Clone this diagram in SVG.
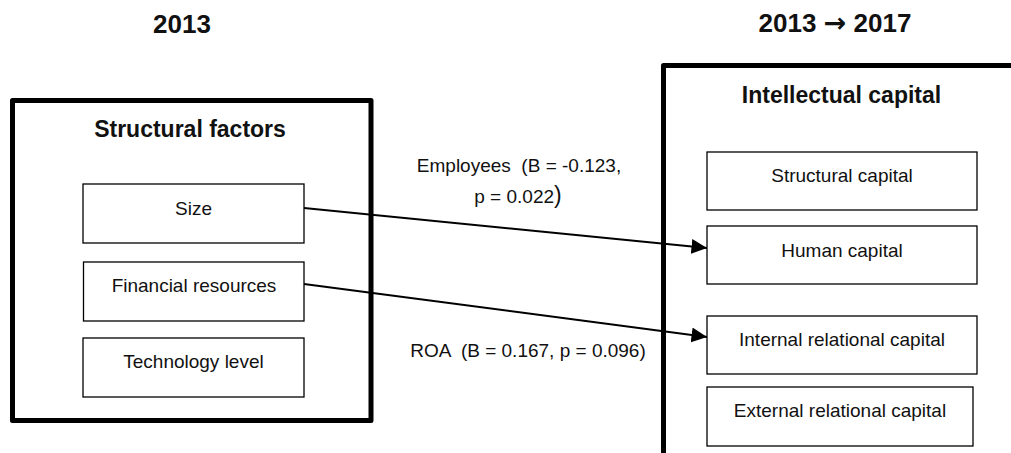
<svg xmlns="http://www.w3.org/2000/svg" width="1011" height="453" viewBox="0 0 1011 453">
<style>
.outer{fill:#fff;stroke:#000;stroke-width:5;stroke-linejoin:round}
.inner{fill:#fff;stroke:#000;stroke-width:1.3}
.t{font-family:"Liberation Sans",Arial,sans-serif;font-size:19px;fill:#111;text-anchor:middle}
.h{font-family:"Liberation Sans",Arial,sans-serif;font-weight:bold;fill:#111;text-anchor:middle}
.edge{stroke:#000;stroke-width:2;fill:none}
</style>
<defs>
<marker id="arr" markerWidth="16" markerHeight="16" refX="15.5" refY="7.5" orient="auto" markerUnits="userSpaceOnUse">
<path d="M0,0 L15.5,7.5 L0,15 Z" fill="#000"/>
</marker>
</defs>
<rect width="1011" height="453" fill="#fff"/>
<text class="h" x="182" y="33" font-size="26">2013</text>
<text class="h" x="835" y="32" font-size="26">2013 <tspan font-family="'DejaVu Sans',sans-serif" font-size="27">→</tspan> 2017</text>

<g id="structural-factors">
<rect class="outer" x="12.5" y="100.5" width="358.5" height="320"/>
<text class="h" x="190" y="137" font-size="23">Structural factors</text>
</g>
<g id="size">
<rect class="inner" x="83" y="184" width="221" height="59"/>
<text class="t" x="193.5" y="215">Size</text>
</g>
<g id="financial-resources">
<rect class="inner" x="83.5" y="262" width="220.5" height="59"/>
<text class="t" x="194" y="292">Financial resources</text>
</g>
<g id="technology-level">
<rect class="inner" x="83" y="338" width="221" height="59"/>
<text class="t" x="193.5" y="368">Technology level</text>
</g>

<g id="intellectual-capital">
<rect class="outer" x="663.5" y="65.5" width="360" height="400"/>
<text class="h" x="841.5" y="103" font-size="23">Intellectual capital</text>
</g>
<g id="structural-capital">
<rect class="inner" x="707" y="152" width="270" height="58"/>
<text class="t" x="842" y="182">Structural capital</text>
</g>
<g id="human-capital">
<rect class="inner" x="707" y="226" width="270" height="58"/>
<text class="t" x="842" y="257">Human capital</text>
</g>
<g id="internal-relational-capital">
<rect class="inner" x="707" y="316" width="270" height="58"/>
<text class="t" x="842" y="346">Internal relational capital</text>
</g>
<g id="external-relational-capital">
<rect class="inner" x="707" y="387" width="266" height="59"/>
<text class="t" x="840" y="417">External relational capital</text>
</g>

<g id="connectors">
<line class="edge" x1="304" y1="208" x2="707" y2="248" marker-end="url(#arr)"/>
<line class="edge" x1="304" y1="284" x2="707" y2="337" marker-end="url(#arr)"/>
<text class="t" x="519" y="172" xml:space="preserve">Employees  (B = -0.123,</text>
<text class="t" x="518" y="203">p = 0.022<tspan font-size="23">)</tspan></text>
<text class="t" x="528" y="357" xml:space="preserve">ROA  (B = 0.167, p = 0.096)</text>
</g>
</svg>
